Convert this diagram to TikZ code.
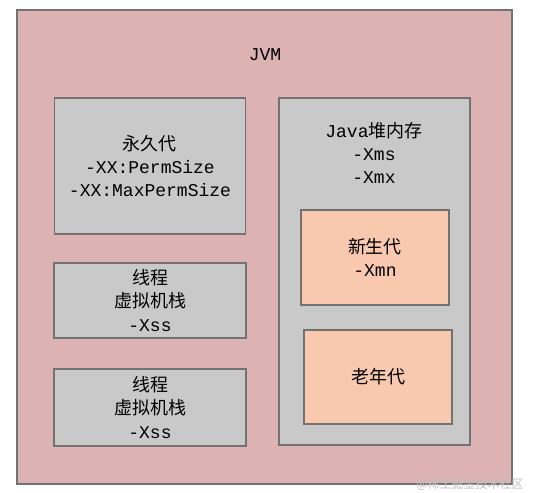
\documentclass[tikz,border=0pt]{standalone}
\usepackage{fontspec}
\setmainfont{Liberation Mono}
\newfontfamily\cjk{Noto Sans CJK SC}
\usetikzlibrary{positioning}
\definecolor{jvmPink}{HTML}{DCB2B2}
\definecolor{jvmGray}{HTML}{C9C9C9}
\definecolor{jvmPeach}{HTML}{F8C8AF}
\definecolor{jvmLine}{HTML}{727272}
\tikzset{
  boxsize/.style 2 args={minimum width=0.75*#1pt,minimum height=0.75*#2pt},
  jvmframe/.style={draw=jvmLine,line width=1pt,fill=jvmPink,inner sep=0pt},
  jvmarea/.style={draw=jvmLine,line width=1pt,fill=jvmGray,inner sep=0pt,
                  align=center,font=\fontsize{13.5}{17.5}\selectfont},
  jvmgen/.style={jvmarea,fill=jvmPeach},
  jvmlabel/.style={align=center,font=\fontsize{13.5}{17.5}\selectfont}
}

\begin{document}
\begin{tikzpicture}[x=0.75pt,y=-0.75pt]
  \useasboundingbox (0,0) rectangle (537,493);
  \node[jvmframe,boxsize={495}{474}] (jvm) at (264.5,247) {};
  \node[jvmlabel] (jvmtitle) at (265,55) {JVM};

  % left column
  \node[jvmarea,boxsize={191}{136}] (perm) at (150,166)
    {{\cjk 永久代}\\-XX:PermSize\\-XX:MaxPermSize};
  \node[jvmarea,boxsize={192}{75}] (stack1) at (150,300.5)
    {{\cjk 线程}\\{\cjk 虚拟机栈}\\-Xss};
  \node[jvmarea,boxsize={192}{77}] (stack2) at (150,407.5)
    {{\cjk 线程}\\{\cjk 虚拟机栈}\\-Xss};

  % heap
  \node[jvmarea,boxsize={191}{347}] (heap) at (374.5,271.5) {};
  \node[jvmlabel] (heaptitle) at (374,153) {Java{\cjk 堆内存}\\-Xms\\-Xmx};
  \node[jvmgen,boxsize={148}{95}] (young) at (375,257.5)
    {{\cjk 新生代}\\-Xmn};
  \node[jvmgen,boxsize={148}{94}] (old) at (378,377) {{\cjk 老年代}};

  \node[font=\cjk\fontsize{9}{10}\selectfont,text=black!25] (mark) at (470,484)
    {@稀土掘金技术社区};
\end{tikzpicture}
\end{document}
